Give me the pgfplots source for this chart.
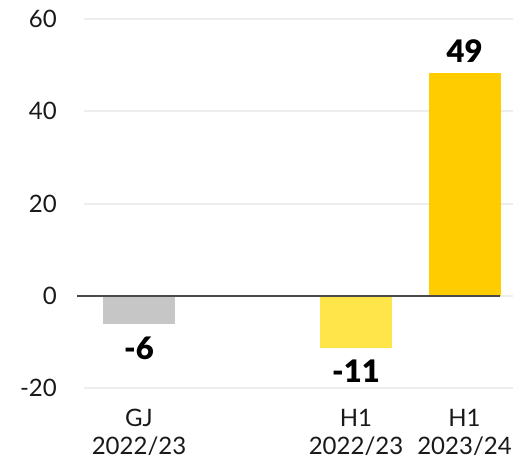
\documentclass[border=0pt]{standalone}
\usepackage{fontspec}
\setmainfont{Lato}
\newfontfamily\heavy{Lato Black}
\usepackage{pgfplots}
\pgfplotsset{compat=1.18}
\definecolor{bargray}{HTML}{C6C6C6}
\definecolor{barlight}{HTML}{FFE54A}
\definecolor{bargold}{HTML}{FFCC00}
\definecolor{gridc}{HTML}{EDEDED}
\definecolor{zeroc}{HTML}{4A4A4A}
\begin{document}
\begin{tikzpicture}[x=1pt,y=1pt]
\path[use as bounding box] (0,0) rectangle (513,461);
\begin{axis}[
  at={(84pt,73pt)}, anchor=south west,
  scale only axis, width=429pt, height=369pt,
  xmin=-0.507, xmax=3.447, ymin=-20, ymax=60,
  ytick={-20,0,20,40,60},
  xtick={0,2,3},
  xticklabels={GJ\\2022/23, H1\\2022/23, H1\\2023/24},
  axis line style={draw=none},
  major tick length=0pt,
  ymajorgrids, grid style={gridc, line width=2pt},
  tick label style={font=\fontsize{24}{28}\selectfont, text=black!90},
  /pgf/number format/assume math mode=true,
  yticklabel style={anchor=east, inner sep=0pt, xshift=-27pt},
  xticklabel style={align=center, anchor=north, inner sep=0pt, yshift=-21pt},
  ybar, bar width=72pt, bar shift=0pt,
  clip=false,
  point meta=explicit symbolic,
  nodes near coords,
  nodes near coords style={font=\fontsize{31}{32}\heavy\selectfont, text=black, inner sep=0pt, yshift=0pt},
]
\addplot[fill=bargray, draw=none, nodes near coords style={anchor=north, yshift=-12pt}] coordinates {(0,-6.2) [-6]};
\addplot[fill=barlight, draw=none, nodes near coords style={anchor=north, yshift=-11pt}] coordinates {(2,-11.4) [-11]};
\addplot[fill=bargold, draw=none, nodes near coords style={anchor=south, yshift=10pt}] coordinates {(3,48.4) [49]};
\addplot[sharp plot, zeroc, line width=1.8pt, nodes near coords={}] coordinates {(-0.571,0) (3.327,0)};
\end{axis}
\end{tikzpicture}
\end{document}
